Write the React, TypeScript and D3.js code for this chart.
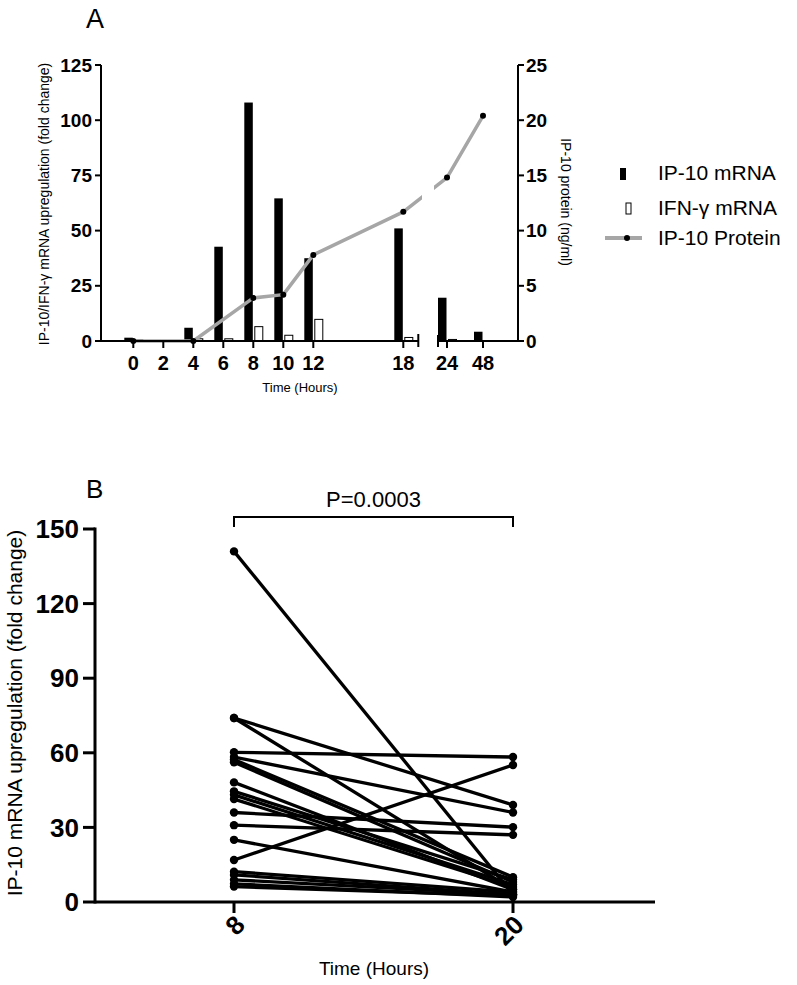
import React from 'react';
import * as d3 from 'd3';

// ---------- Panel A data ----------
const hoursA = [0, 2, 4, 6, 8, 10, 12, 18, 24, 48];
const ip10mRNA = [1.5, 0, 6, 42.7, 108, 64.6, 37.5, 51, 19.6, 4.2];
const ifngMRNA = [0.5, 0, 1, 1, 6.5, 2.6, 9.8, 1.6, 0.7, 0];
const proteinHours = [0, 4, 8, 10, 12, 18, 24, 48];
const ip10Protein = [0, 0, 3.9, 4.2, 7.8, 11.7, 14.8, 20.4];
const leftTicksA = [0, 25, 50, 75, 100, 125];
const rightTicksA = [0, 5, 10, 15, 20, 25];
const legendLabels = ['IP-10 mRNA', 'IFN-\u03b3 mRNA', 'IP-10 Protein'];

// ---------- Panel B data ----------
const timesB = ['8', '20'];
const valuesAt8 = [141, 74, 74, 60.2, 58.3, 57.3, 56.2, 48.1, 44.5, 43.1, 41.4, 36, 30.9, 25, 16.9, 12.2, 10.9, 8.9, 7.3, 6.2];
const valuesAt20 = [3, 39, 5, 58.3, 36, 10, 8, 5, 9, 7, 6, 30.1, 27, 4, 55.1, 4, 3, 3, 2, 2.5];
const ticksB = [0, 30, 60, 90, 120, 150];
const pValueLabel = 'P=0.0003';

const FONT = "'Liberation Sans', Arial, Helvetica, sans-serif";

export default function App() {
  // Panel A scales
  const xA1 = d3.scaleLinear().domain([0, 18]).range([133.3, 403.3]);
  const xA2 = d3.scaleLinear().domain([24, 48]).range([447, 483]);
  const xA = (h: number) => (h <= 19 ? xA1(h) : xA2(h));
  const yL = d3.scaleLinear().domain([0, 125]).range([341, 65]);
  const yR = d3.scaleLinear().domain([0, 25]).range([341, 65]);
  const axisLeftX = 101;
  const axisRightX = 518;
  const breakL = xA1(19);
  const breakR = xA2(24) - 9;

  const proteinPts: [number, number][] = proteinHours.map((h, i) => [xA(h), yR(ip10Protein[i])]);
  const lineGen = d3.line<[number, number]>().x(d => d[0]).y(d => d[1]);

  // Panel B scales
  const xB = d3.scalePoint<string>().domain(timesB).range([234, 513]).padding(0);
  const yB = d3.scaleLinear().domain([0, 150]).range([902, 529]);
  const axisBX = 95;

  const barW = 8.5;

  return (
    <svg width={797} height={985} style={{ position: 'absolute', left: 0, top: 0, display: 'block', background: '#fff' }} fontFamily={FONT}>
      <defs>
        <clipPath id="gapClip">
          <rect x={0} y={0} width={422} height={400} />
          <rect x={434} y={0} width={200} height={400} />
        </clipPath>
      </defs>

      {/* ================= Panel A ================= */}
      <text x={86} y={28} fontSize={27}>A</text>

      {/* bars */}
      {hoursA.map((h, i) => ip10mRNA[i] > 0 && (
        <rect key={'b' + h} x={xA(h) - barW - 0.5} y={yL(ip10mRNA[i])} width={barW} height={yL(0) - yL(ip10mRNA[i])} fill="#000" />
      ))}
      {hoursA.map((h, i) => ifngMRNA[i] > 0 && (
        <rect key={'w' + h} x={xA(h) + 1.5} y={yL(ifngMRNA[i])} width={barW - 0.5} height={yL(0) - yL(ifngMRNA[i])} fill="#fff" stroke="#000" strokeWidth={1} />
      ))}

      {/* protein line */}
      <g clipPath="url(#gapClip)">
        <path d={lineGen(proteinPts) || ''} fill="none" stroke="#a6a6a6" strokeWidth={3.5} strokeLinejoin="round" />
      </g>
      {proteinPts.map((p, i) => (
        <circle key={'p' + i} cx={p[0]} cy={p[1]} r={3} fill="#000" />
      ))}

      {/* left axis */}
      <line x1={axisLeftX} y1={yL(125)} x2={axisLeftX} y2={yL(0) + 1} stroke="#000" strokeWidth={2} />
      {leftTicksA.map(t => (
        <g key={'lt' + t}>
          <line x1={axisLeftX - 6} x2={axisLeftX} y1={yL(t)} y2={yL(t)} stroke="#000" strokeWidth={2} />
          <text x={axisLeftX - 9} y={yL(t)} dy="0.35em" textAnchor="end" fontSize={19} fontWeight="bold">{t}</text>
        </g>
      ))}
      {/* right axis */}
      <line x1={axisRightX} y1={yR(25)} x2={axisRightX} y2={yR(0) + 1} stroke="#000" strokeWidth={2} />
      {rightTicksA.map(t => (
        <g key={'rt' + t}>
          <line x1={axisRightX} x2={axisRightX + 6} y1={yR(t)} y2={yR(t)} stroke="#000" strokeWidth={2} />
          <text x={axisRightX + 8} y={yR(t)} dy="0.35em" textAnchor="start" fontSize={19} fontWeight="bold">{t}</text>
        </g>
      ))}
      {/* x axis with break */}
      <line x1={axisLeftX} x2={breakL} y1={yL(0)} y2={yL(0)} stroke="#000" strokeWidth={2} />
      <line x1={breakL} x2={breakL} y1={yL(0) - 7} y2={yL(0) + 6} stroke="#000" strokeWidth={2} />
      <line x1={breakR} x2={axisRightX} y1={yL(0)} y2={yL(0)} stroke="#000" strokeWidth={2} />
      <line x1={breakR} x2={breakR} y1={yL(0) - 6} y2={yL(0) + 6} stroke="#000" strokeWidth={2} />
      {hoursA.map(h => (
        <g key={'xt' + h}>
          <line x1={xA(h)} x2={xA(h)} y1={yL(0)} y2={yL(0) + 7} stroke="#000" strokeWidth={2} />
          <text x={xA(h)} y={370} textAnchor="middle" fontSize={20} fontWeight="bold">{h}</text>
        </g>
      ))}
      <text x={300} y={392} textAnchor="middle" fontSize={13}>Time (Hours)</text>
      <text transform="translate(49,204) rotate(-90)" textAnchor="middle" fontSize={14}>IP-10/IFN-{'\u03b3'} mRNA upregulation (fold change)</text>
      <text transform="translate(561,202) rotate(90)" textAnchor="middle" fontSize={14}>IP-10 protein (ng/ml)</text>

      {/* legend */}
      <rect x={620} y={168} width={6} height={12} fill="#000" />
      <rect x={626} y={203} width={5} height={11} fill="#fff" stroke="#000" strokeWidth={1} />
      <line x1={605} x2={642} y1={238} y2={238} stroke="#a6a6a6" strokeWidth={4} />
      <circle cx={627} cy={238} r={3} fill="#000" />
      {legendLabels.map((l, i) => (
        <text key={l} x={658} y={[173, 208, 238][i]} dy="0.35em" fontSize={21}>{l}</text>
      ))}

      {/* ================= Panel B ================= */}
      <text x={86} y={498} fontSize={26}>B</text>

      {valuesAt8.map((v, i) => (
        <line key={'l' + i} x1={xB('8')!} y1={yB(v)} x2={xB('20')!} y2={yB(valuesAt20[i])} stroke="#000" strokeWidth={3.3} />
      ))}
      {valuesAt8.map((v, i) => (
        <g key={'d' + i}>
          <circle cx={xB('8')!} cy={yB(v)} r={4.2} fill="#000" />
          <circle cx={xB('20')!} cy={yB(valuesAt20[i])} r={4.2} fill="#000" />
        </g>
      ))}

      {/* y axis B */}
      <line x1={axisBX} x2={axisBX} y1={yB(150) - 1.5} y2={yB(0) + 1.5} stroke="#000" strokeWidth={3} />
      {ticksB.map(t => (
        <g key={'bt' + t}>
          <line x1={axisBX - 12} x2={axisBX} y1={yB(t)} y2={yB(t)} stroke="#000" strokeWidth={3} />
          <text x={axisBX - 16} y={yB(t)} dy="0.35em" textAnchor="end" fontSize={26} fontWeight="bold">{t}</text>
        </g>
      ))}
      {/* x axis B */}
      <line x1={axisBX} x2={655} y1={yB(0)} y2={yB(0)} stroke="#000" strokeWidth={3} />
      {timesB.map(t => (
        <g key={'bx' + t}>
          <line x1={xB(t)!} x2={xB(t)!} y1={yB(0)} y2={yB(0) + 11} stroke="#000" strokeWidth={3} />
          <text transform={`translate(${xB(t)! + 6},${yB(0) + 18}) rotate(-45)`} textAnchor="end" dy="0.35em" fontSize={26} fontWeight="bold">{t}</text>
        </g>
      ))}
      <text x={374} y={975} textAnchor="middle" fontSize={19}>Time (Hours)</text>
      <text transform="translate(22,713) rotate(-90)" textAnchor="middle" fontSize={21}>IP-10 mRNA upregulation (fold change)</text>

      {/* significance bracket */}
      <path d={`M${xB('8')},527 V517 H${xB('20')} V527`} fill="none" stroke="#000" strokeWidth={2} />
      <text x={(xB('8')! + xB('20')!) / 2} y={507} textAnchor="middle" fontSize={22}>{pValueLabel}</text>
    </svg>
  );
}
